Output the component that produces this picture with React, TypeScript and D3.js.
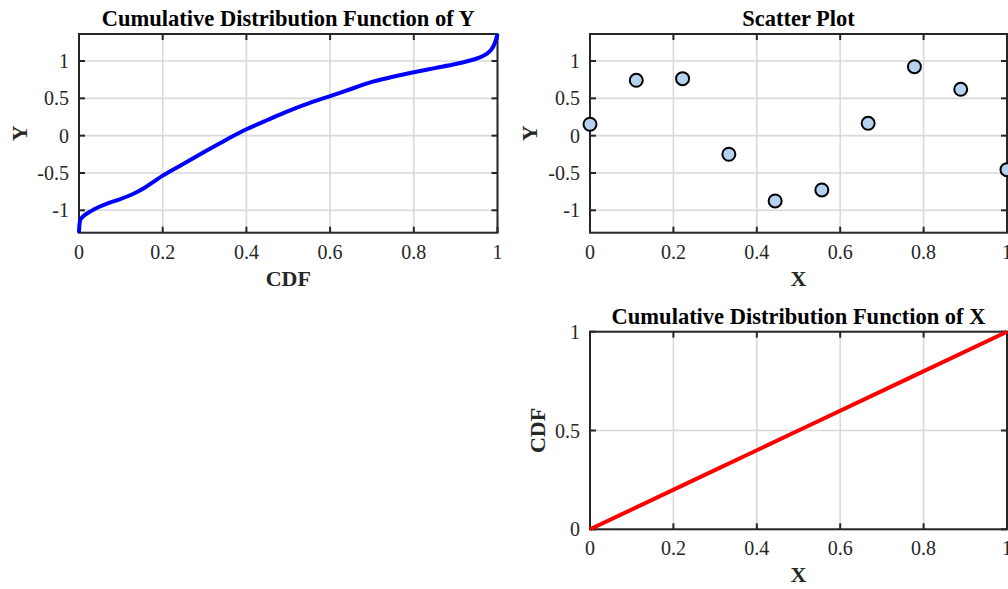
import React, { useRef, useEffect } from 'react';
import * as d3 from 'd3';

// Empirical CDF of Y (probability on x, Y value on y)
const cdfYProb = [0, 0.001, 0.003, 0.008, 0.014, 0.026, 0.04, 0.058, 0.075, 0.094, 0.115, 0.135, 0.155, 0.175, 0.2, 0.25, 0.3, 0.35, 0.4, 0.45, 0.5, 0.55, 0.6, 0.65, 0.7, 0.75, 0.8, 0.85, 0.9, 0.93, 0.958, 0.975, 0.986, 0.992, 0.996, 1];
const cdfYValue = [-1.3, -1.2, -1.13, -1.09, -1.06, -1.02, -0.975, -0.93, -0.895, -0.86, -0.815, -0.765, -0.705, -0.63, -0.535, -0.375, -0.215, -0.06, 0.085, 0.21, 0.33, 0.435, 0.53, 0.625, 0.72, 0.79, 0.85, 0.905, 0.96, 1.0, 1.05, 1.1, 1.16, 1.22, 1.28, 1.362];

// Scatter samples
const scatterX = [0, 0.111, 0.222, 0.333, 0.444, 0.556, 0.667, 0.778, 0.889, 1];
const scatterY = [0.153, 0.742, 0.764, -0.249, -0.875, -0.727, 0.166, 0.924, 0.621, -0.455];

// CDF of X (uniform)
const cdfXValue = [0, 0.25, 0.5, 0.75, 1];
const cdfXProb = [0, 0.25, 0.5, 0.75, 1];

const unitTicks = [0, 0.2, 0.4, 0.6, 0.8, 1];
const yTicks = [-1, -0.5, 0, 0.5, 1];
const cdfTicks = [0, 0.5, 1];
const yDomain: [number, number] = [-1.3, 1.362];

const FONT = '"Liberation Serif", "Times New Roman", Times, serif';
const fmt = (d: number) => String(d);

interface Panel {
    left: number; right: number; top: number; bottom: number;
    xDomain: [number, number]; yDomain: [number, number];
    xTicks: number[]; yTicks: number[];
    title: string; xLabel: string; yLabel: string; yLabelX: number;
}

const App: React.FC = () => {
    const svgRef = useRef<SVGSVGElement>(null);

    useEffect(() => {
        if (!svgRef.current) return;
        const svg = d3.select(svgRef.current);
        svg.selectAll("*").remove();

        const drawAxes = (p: Panel) => {
            const x = d3.scaleLinear().domain(p.xDomain).range([p.left, p.right]);
            const y = d3.scaleLinear().domain(p.yDomain).range([p.bottom, p.top]);
            const g = svg.append("g");

            // grid
            g.selectAll(".vgrid").data(p.xTicks).enter().append("line")
                .attr("x1", d => x(d)).attr("x2", d => x(d))
                .attr("y1", p.top).attr("y2", p.bottom)
                .attr("stroke", "#d9d9d9").attr("stroke-width", 1.6);
            g.selectAll(".hgrid").data(p.yTicks).enter().append("line")
                .attr("x1", p.left).attr("x2", p.right)
                .attr("y1", d => y(d)).attr("y2", d => y(d))
                .attr("stroke", "#d9d9d9").attr("stroke-width", 1.6);

            // ticks (inward, all four sides)
            const tl = 6;
            p.xTicks.forEach(d => {
                g.append("line").attr("x1", x(d)).attr("x2", x(d)).attr("y1", p.bottom).attr("y2", p.bottom - tl)
                    .attr("stroke", "#262626").attr("stroke-width", 2);
                g.append("line").attr("x1", x(d)).attr("x2", x(d)).attr("y1", p.top).attr("y2", p.top + tl)
                    .attr("stroke", "#262626").attr("stroke-width", 2);
                g.append("text").attr("x", x(d)).attr("y", p.bottom + 26)
                    .attr("text-anchor", "middle").attr("font-family", FONT).attr("font-size", 20)
                    .attr("fill", "#262626").text(fmt(d));
            });
            p.yTicks.forEach(d => {
                g.append("line").attr("x1", p.left).attr("x2", p.left + tl).attr("y1", y(d)).attr("y2", y(d))
                    .attr("stroke", "#262626").attr("stroke-width", 2);
                g.append("line").attr("x1", p.right).attr("x2", p.right - tl).attr("y1", y(d)).attr("y2", y(d))
                    .attr("stroke", "#262626").attr("stroke-width", 2);
                g.append("text").attr("x", p.left - 10).attr("y", y(d) + 7)
                    .attr("text-anchor", "end").attr("font-family", FONT).attr("font-size", 20)
                    .attr("fill", "#262626").text(fmt(d));
            });

            // box
            g.append("rect").attr("x", p.left).attr("y", p.top)
                .attr("width", p.right - p.left).attr("height", p.bottom - p.top)
                .attr("fill", "none").attr("stroke", "#262626").attr("stroke-width", 2);

            // title + labels
            const cx = (p.left + p.right) / 2;
            g.append("text").attr("x", cx).attr("y", p.top - 8)
                .attr("text-anchor", "middle").attr("font-family", FONT).attr("font-size", 22.5)
                .attr("font-weight", "bold").attr("fill", "#000").text(p.title);
            g.append("text").attr("x", cx).attr("y", p.bottom + 53)
                .attr("text-anchor", "middle").attr("font-family", FONT).attr("font-size", 22)
                .attr("font-weight", "bold").attr("fill", "#262626").text(p.xLabel);
            g.append("text")
                .attr("transform", `translate(${p.yLabelX},${(p.top + p.bottom) / 2}) rotate(-90)`)
                .attr("text-anchor", "middle").attr("font-family", FONT).attr("font-size", 22)
                .attr("font-weight", "bold").attr("fill", "#262626").text(p.yLabel);

            return { x, y };
        };

        // Top-left: CDF of Y
        const tl = drawAxes({
            left: 79, right: 497.5, top: 34, bottom: 232.7,
            xDomain: [0, 1], yDomain, xTicks: unitTicks, yTicks,
            title: "Cumulative Distribution Function of Y", xLabel: "CDF", yLabel: "Y", yLabelX: 26.5,
        });
        const lineY = d3.line<number>()
            .x((_, i) => tl.x(cdfYProb[i]))
            .y(d => tl.y(d))
            .curve(d3.curveMonotoneY);
        svg.append("path").datum(cdfYValue)
            .attr("fill", "none").attr("stroke", "#0000ff").attr("stroke-width", 4)
            .attr("stroke-linejoin", "round").attr("d", lineY);

        // Top-right: scatter
        const tr = drawAxes({
            left: 590, right: 1007, top: 34, bottom: 232.7,
            xDomain: [0, 1], yDomain, xTicks: unitTicks, yTicks,
            title: "Scatter Plot", xLabel: "X", yLabel: "Y", yLabelX: 537,
        });
        svg.append("g").selectAll("circle").data(scatterX).enter().append("circle")
            .attr("cx", d => tr.x(d))
            .attr("cy", (_, i) => tr.y(scatterY[i]))
            .attr("r", 6.5)
            .attr("fill", "#b5d2f0").attr("stroke", "#000").attr("stroke-width", 2);

        // Bottom-right: CDF of X
        const br = drawAxes({
            left: 590, right: 1007, top: 331.7, bottom: 529.3,
            xDomain: [0, 1], yDomain: [0, 1], xTicks: unitTicks, yTicks: cdfTicks,
            title: "Cumulative Distribution Function of X", xLabel: "X", yLabel: "CDF", yLabelX: 545,
        });
        const lineX = d3.line<number>()
            .x(d => br.x(d))
            .y((_, i) => br.y(cdfXProb[i]));
        svg.append("path").datum(cdfXValue)
            .attr("fill", "none").attr("stroke", "#ff0000").attr("stroke-width", 4)
            .attr("d", lineX);
    }, []);

    return (
        <svg
            ref={svgRef}
            width={1008}
            height={589}
            style={{ position: 'absolute', left: 0, top: 0, background: '#fff' }}
        />
    );
};

export default App;
